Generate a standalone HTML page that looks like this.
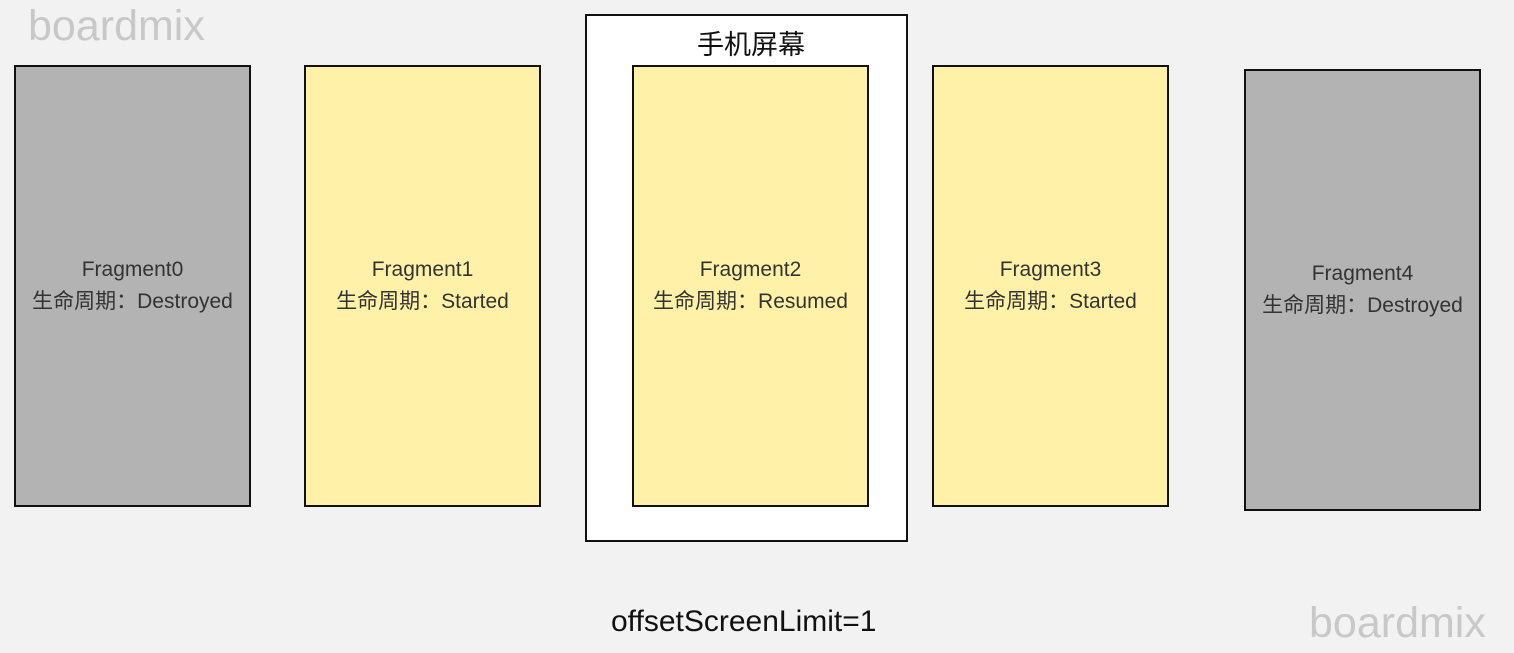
<!DOCTYPE html>
<html><head><meta charset="utf-8"><style>
body{margin:0;width:1514px;height:653px;background:#f2f2f2;position:relative;overflow:hidden;font-family:"Liberation Sans","Noto Sans CJK SC",sans-serif}
.b{position:absolute;border:2px solid #111;box-sizing:border-box;display:flex;align-items:center;justify-content:center;text-align:center;font-size:21px;color:#333;line-height:32px}
.g{background:#b3b3b3}.y{background:#fff2a8}
.t{position:absolute;white-space:nowrap}
</style></head><body>
<div class="t" style="left:28px;top:2px;font-size:43px;color:#c8c8c8">boardmix</div>
<div class="t" style="left:1309px;top:599px;font-size:43px;color:#c8c8c8">boardmix</div>
<div class="b" style="left:585px;top:14px;width:323px;height:528px;background:#fff"></div>
<div class="t" style="left:697px;top:23px;font-size:27px;color:#111">手机屏幕</div>
<div class="b g" style="left:14px;top:65px;width:237px;height:442px"><div style="margin-top:0px">Fragment0<br>生命周期：Destroyed</div></div>
<div class="b y" style="left:304px;top:65px;width:237px;height:442px"><div style="margin-top:0px">Fragment1<br>生命周期：Started</div></div>
<div class="b y" style="left:632px;top:65px;width:237px;height:442px"><div style="margin-top:0px">Fragment2<br>生命周期：Resumed</div></div>
<div class="b y" style="left:932px;top:65px;width:237px;height:442px"><div style="margin-top:0px">Fragment3<br>生命周期：Started</div></div>
<div class="b g" style="left:1244px;top:69px;width:237px;height:442px"><div style="margin-top:0px">Fragment4<br>生命周期：Destroyed</div></div>
<div class="t" style="left:611px;top:605px;font-size:30px;color:#111">offsetScreenLimit=1</div>
</body></html>
